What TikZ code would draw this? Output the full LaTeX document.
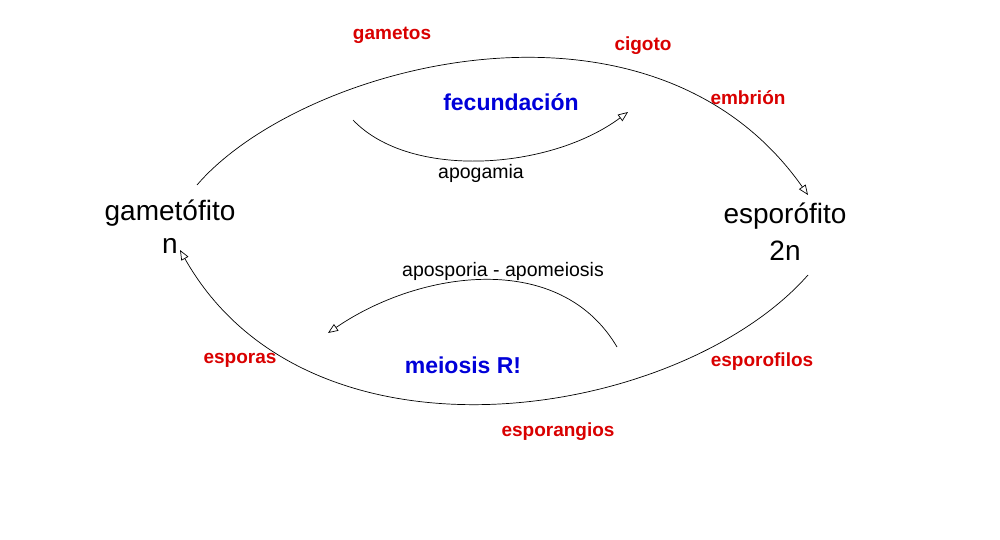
\documentclass[tikz,border=0pt]{standalone}
\usepackage{fontspec}
\setmainfont{Liberation Sans}
\usetikzlibrary{arrows.meta}
\begin{document}
\begin{tikzpicture}[x=1pt,y=-1pt,
  big/.style={font=\fontsize{28}{30}\selectfont},
  red/.style={font=\bfseries\fontsize{19}{21}\selectfont,text=red!85!black},
  blue/.style={font=\bfseries\fontsize{23}{25}\selectfont,text=blue!85!black},
  lab/.style={font=\fontsize{19.5}{21}\selectfont},
  arr/.style={-{Triangle[open,length=10pt,width=8pt]},line width=0.7pt}]
\useasboundingbox (0,0) rectangle (1000,540);
\node[big] (g) at (170,213) {gametófito};
\node[big] (gn) at (170,246) {n};
\node[big] (e) at (785,216) {esporófito};
\node[big] (en) at (785,251) {2n};
\node[red] (t1) at (392,35) {gametos};
\node[red] (t2) at (643,46) {cigoto};
\node[red] (t3) at (748,98) {embrión};
\node[red] (t4) at (240,360) {esporas};
\node[red] (t5) at (762,362) {esporofilos};
\node[red] (t6) at (558,432) {esporangios};
\node[blue] (f) at (511,102) {fecundación};
\node[blue] (m) at (463,365) {meiosis R!};
\node[lab] (a1) at (481,173) {apogamia};
\node[lab] (a2) at (503,271) {aposporia - apomeiosis};
\coordinate (p1) at (197,185); \coordinate (p2) at (808,195);
\coordinate (q1) at (353,120); \coordinate (q2) at (628,112);
\coordinate (r1) at (808,275); \coordinate (r2) at (180,250);
\coordinate (s1) at (617,347); \coordinate (s2) at (328,333);
\draw[arr] (p1) .. controls (300,65) and (650,-30) .. (p2);
\draw[arr] (q1) .. controls (410,180) and (550,170) .. (q2);
\draw[arr] (r1) .. controls (680,420) and (310,480) .. (r2);
\draw[arr] (s1) .. controls (560,250) and (420,270) .. (s2);
\end{tikzpicture}
\end{document}
